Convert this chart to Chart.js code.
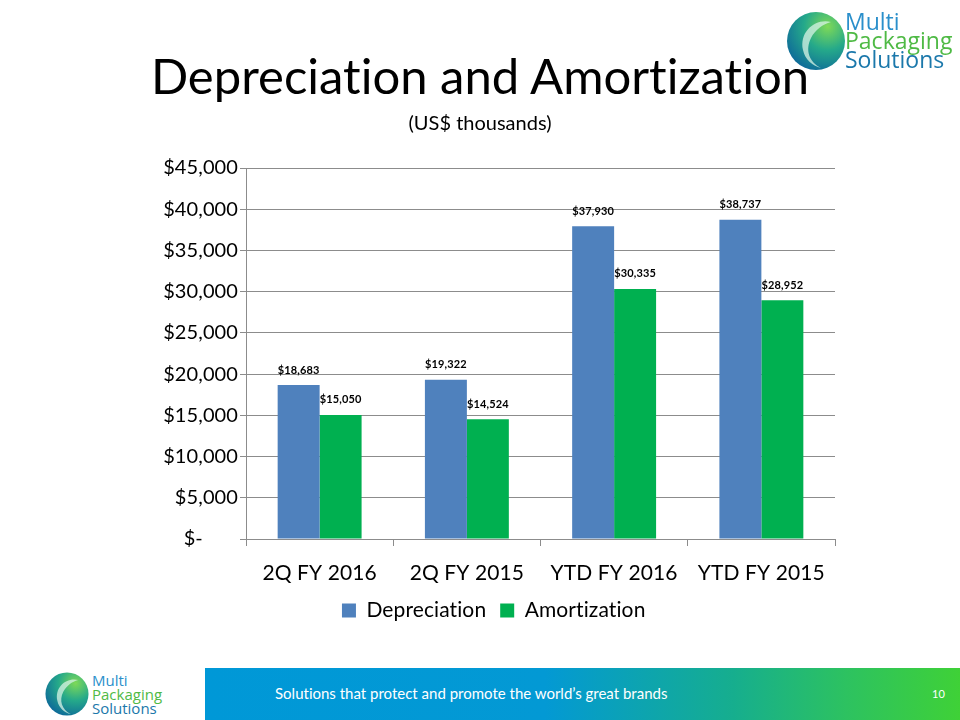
<!DOCTYPE html>
<html>
<head>
<meta charset="utf-8">
<script src="https://cdn.jsdelivr.net/npm/chart.js@4.4.0/dist/chart.umd.min.js"></script>
<style>
  html, body { margin:0; padding:0; background:#fff; }
  #page { position:relative; width:960px; height:720px; overflow:hidden; background:#fff; font-family: Lato, "Open Sans", sans-serif; font-variant-ligatures: none; }
  #chartWrap { position:absolute; left:0; top:0; width:960px; height:660px; }
  #title { position:absolute; left:0; width:960px; top:45px; text-align:center; font-size:49px; line-height:60px; color:#000; white-space:nowrap; }
  #subtitle { position:absolute; left:0; width:960px; top:109px; text-align:center; font-size:20px; line-height:26px; color:#000; }
  #footer { position:absolute; left:205px; top:668px; width:755px; height:52px;
    background: linear-gradient(90deg, #0098d7 0%, #0399d4 45%, #16ae8e 70%, #2dc260 85%, #3fd137 100%); }
  #footText { position:absolute; left:70px; top:16px; color:#fff; font-size:15px; }
  #pageNum { position:absolute; left:727px; top:19px; color:#fff; font-size:11px; }
  .logoText { position:absolute; font-family: "Open Sans", Lato, sans-serif; line-height:1; }
</style>
</head>
<body>
<div id="page">
  <div id="chartWrap"><canvas id="c" width="960" height="660"></canvas></div>
  <div id="title">Depreciation and Amortization</div>
  <div id="subtitle">(US$ thousands)</div>

  <!-- top right logo -->
  <svg style="position:absolute;left:785px;top:10px" width="62" height="62" viewBox="0 0 62 62">
    <defs>
      <radialGradient id="lg1" cx="0.7" cy="0.25" r="0.9">
        <stop offset="0" stop-color="#7ed957"/>
        <stop offset="0.45" stop-color="#25a98a"/>
        <stop offset="1" stop-color="#0a5f9c"/>
      </radialGradient>
    </defs>
    <circle cx="31" cy="31" r="29" fill="url(#lg1)"/>
    <path d="M46 12 C30 8 14 22 18 40 C20 50 28 56 36 58 C24 52 20 40 26 28 C30 20 38 14 46 12 Z" fill="#d8f3e6" opacity="0.75"/>
  </svg>
  <div class="logoText" style="left:845px;top:10px;font-size:23px;color:#2a8fcb">Multi</div>
  <div class="logoText" style="left:845px;top:29px;font-size:23px;color:#4fba45">Packaging</div>
  <div class="logoText" style="left:845px;top:48px;font-size:23px;color:#1b78ab">Solutions</div>

  <!-- bottom left logo -->
  <svg style="position:absolute;left:44px;top:671px" width="46" height="46" viewBox="0 0 62 62">
    <defs>
      <radialGradient id="lg2" cx="0.7" cy="0.25" r="0.9">
        <stop offset="0" stop-color="#7ed957"/>
        <stop offset="0.45" stop-color="#25a98a"/>
        <stop offset="1" stop-color="#0a5f9c"/>
      </radialGradient>
    </defs>
    <circle cx="31" cy="31" r="29" fill="url(#lg2)"/>
    <path d="M46 12 C30 8 14 22 18 40 C20 50 28 56 36 58 C24 52 20 40 26 28 C30 20 38 14 46 12 Z" fill="#d8f3e6" opacity="0.75"/>
  </svg>
  <div class="logoText" style="left:92px;top:673px;font-size:15px;color:#2a8fcb">Multi</div>
  <div class="logoText" style="left:92px;top:687px;font-size:15px;color:#4fba45">Packaging</div>
  <div class="logoText" style="left:92px;top:701px;font-size:15px;color:#1b78ab">Solutions</div>

  <div id="footer">
    <div id="footText">Solutions that protect and promote the world’s great brands</div>
    <div id="pageNum">10</div>
  </div>
</div>
<script>
const categories = ["2Q FY 2016", "2Q FY 2015", "YTD FY 2016", "YTD FY 2015"];
const depreciation = [18683, 19322, 37930, 38737];
const amortization = [15050, 14524, 30335, 28952];
const yTicks = [0, 5000, 10000, 15000, 20000, 25000, 30000, 35000, 40000, 45000];

const fmt = v => v === 0 ? "$-" : "$" + v.toLocaleString("en-US");
const tickFmt = v => v === 0 ? "$-\u2007\u2007\u2007" : fmt(v);

const noLigatures = {
  id: "noLigatures",
  beforeDraw(chart) {
    const ctx = chart.ctx;
    try { ctx.textRendering = "optimizeSpeed"; } catch (e) {}
    try { ctx.letterSpacing = "0.1px"; } catch (e) {}
  }
};

const dataLabels = {
  id: "dataLabels",
  afterDatasetsDraw(chart) {
    const ctx = chart.ctx;
    ctx.save();
    ctx.font = "bold 11px Lato, sans-serif";
    ctx.fillStyle = "#000";
    ctx.textAlign = "center";
    ctx.textBaseline = "middle";
    chart.data.datasets.forEach((ds, i) => {
      const meta = chart.getDatasetMeta(i);
      meta.data.forEach((bar, j) => {
        ctx.fillText(fmt(ds.data[j]), bar.x, bar.y - 15);
      });
    });
    ctx.restore();
  }
};

new Chart(document.getElementById("c"), {
  type: "bar",
  data: {
    labels: categories,
    datasets: [
      { label: "Depreciation", data: depreciation, backgroundColor: "#4f81bd", categoryPercentage: 0.57, barPercentage: 1.0 },
      { label: "Amortization", data: amortization, backgroundColor: "#00b050", categoryPercentage: 0.57, barPercentage: 1.0 }
    ]
  },
  options: {
    responsive: false,
    animation: false,
    layout: { padding: { left: 150, right: 125, top: 168, bottom: 29 } },
    plugins: {
      legend: {
        position: "bottom",
        labels: { boxWidth: 14, boxHeight: 14, padding: 14, color: "#000", font: { family: "Lato", size: 21 } }
      },
      tooltip: { enabled: false }
    },
    scales: {
      y: {
        min: 0, max: 45000,
        afterBuildTicks: s => { s.ticks = yTicks.map(v => ({ value: v })); },
        afterFit: s => { s.width = 96; },
        ticks: { callback: v => tickFmt(v), color: "#000", font: { family: "Lato", size: 20 }, padding: 2 },
        grid: { color: "#8c8c8c", tickLength: 6 },
        border: { color: "#8c8c8c" }
      },
      x: {
        afterFit: s => { s.height = 47; },
        ticks: { color: "#000", font: { family: "Lato", size: 21 }, padding: 15 },
        grid: { offset: true, drawOnChartArea: false, tickLength: 7, color: "#8c8c8c" },
        border: { color: "#8c8c8c" }
      }
    }
  },
  plugins: [noLigatures, dataLabels]
});
</script>
</body>
</html>
